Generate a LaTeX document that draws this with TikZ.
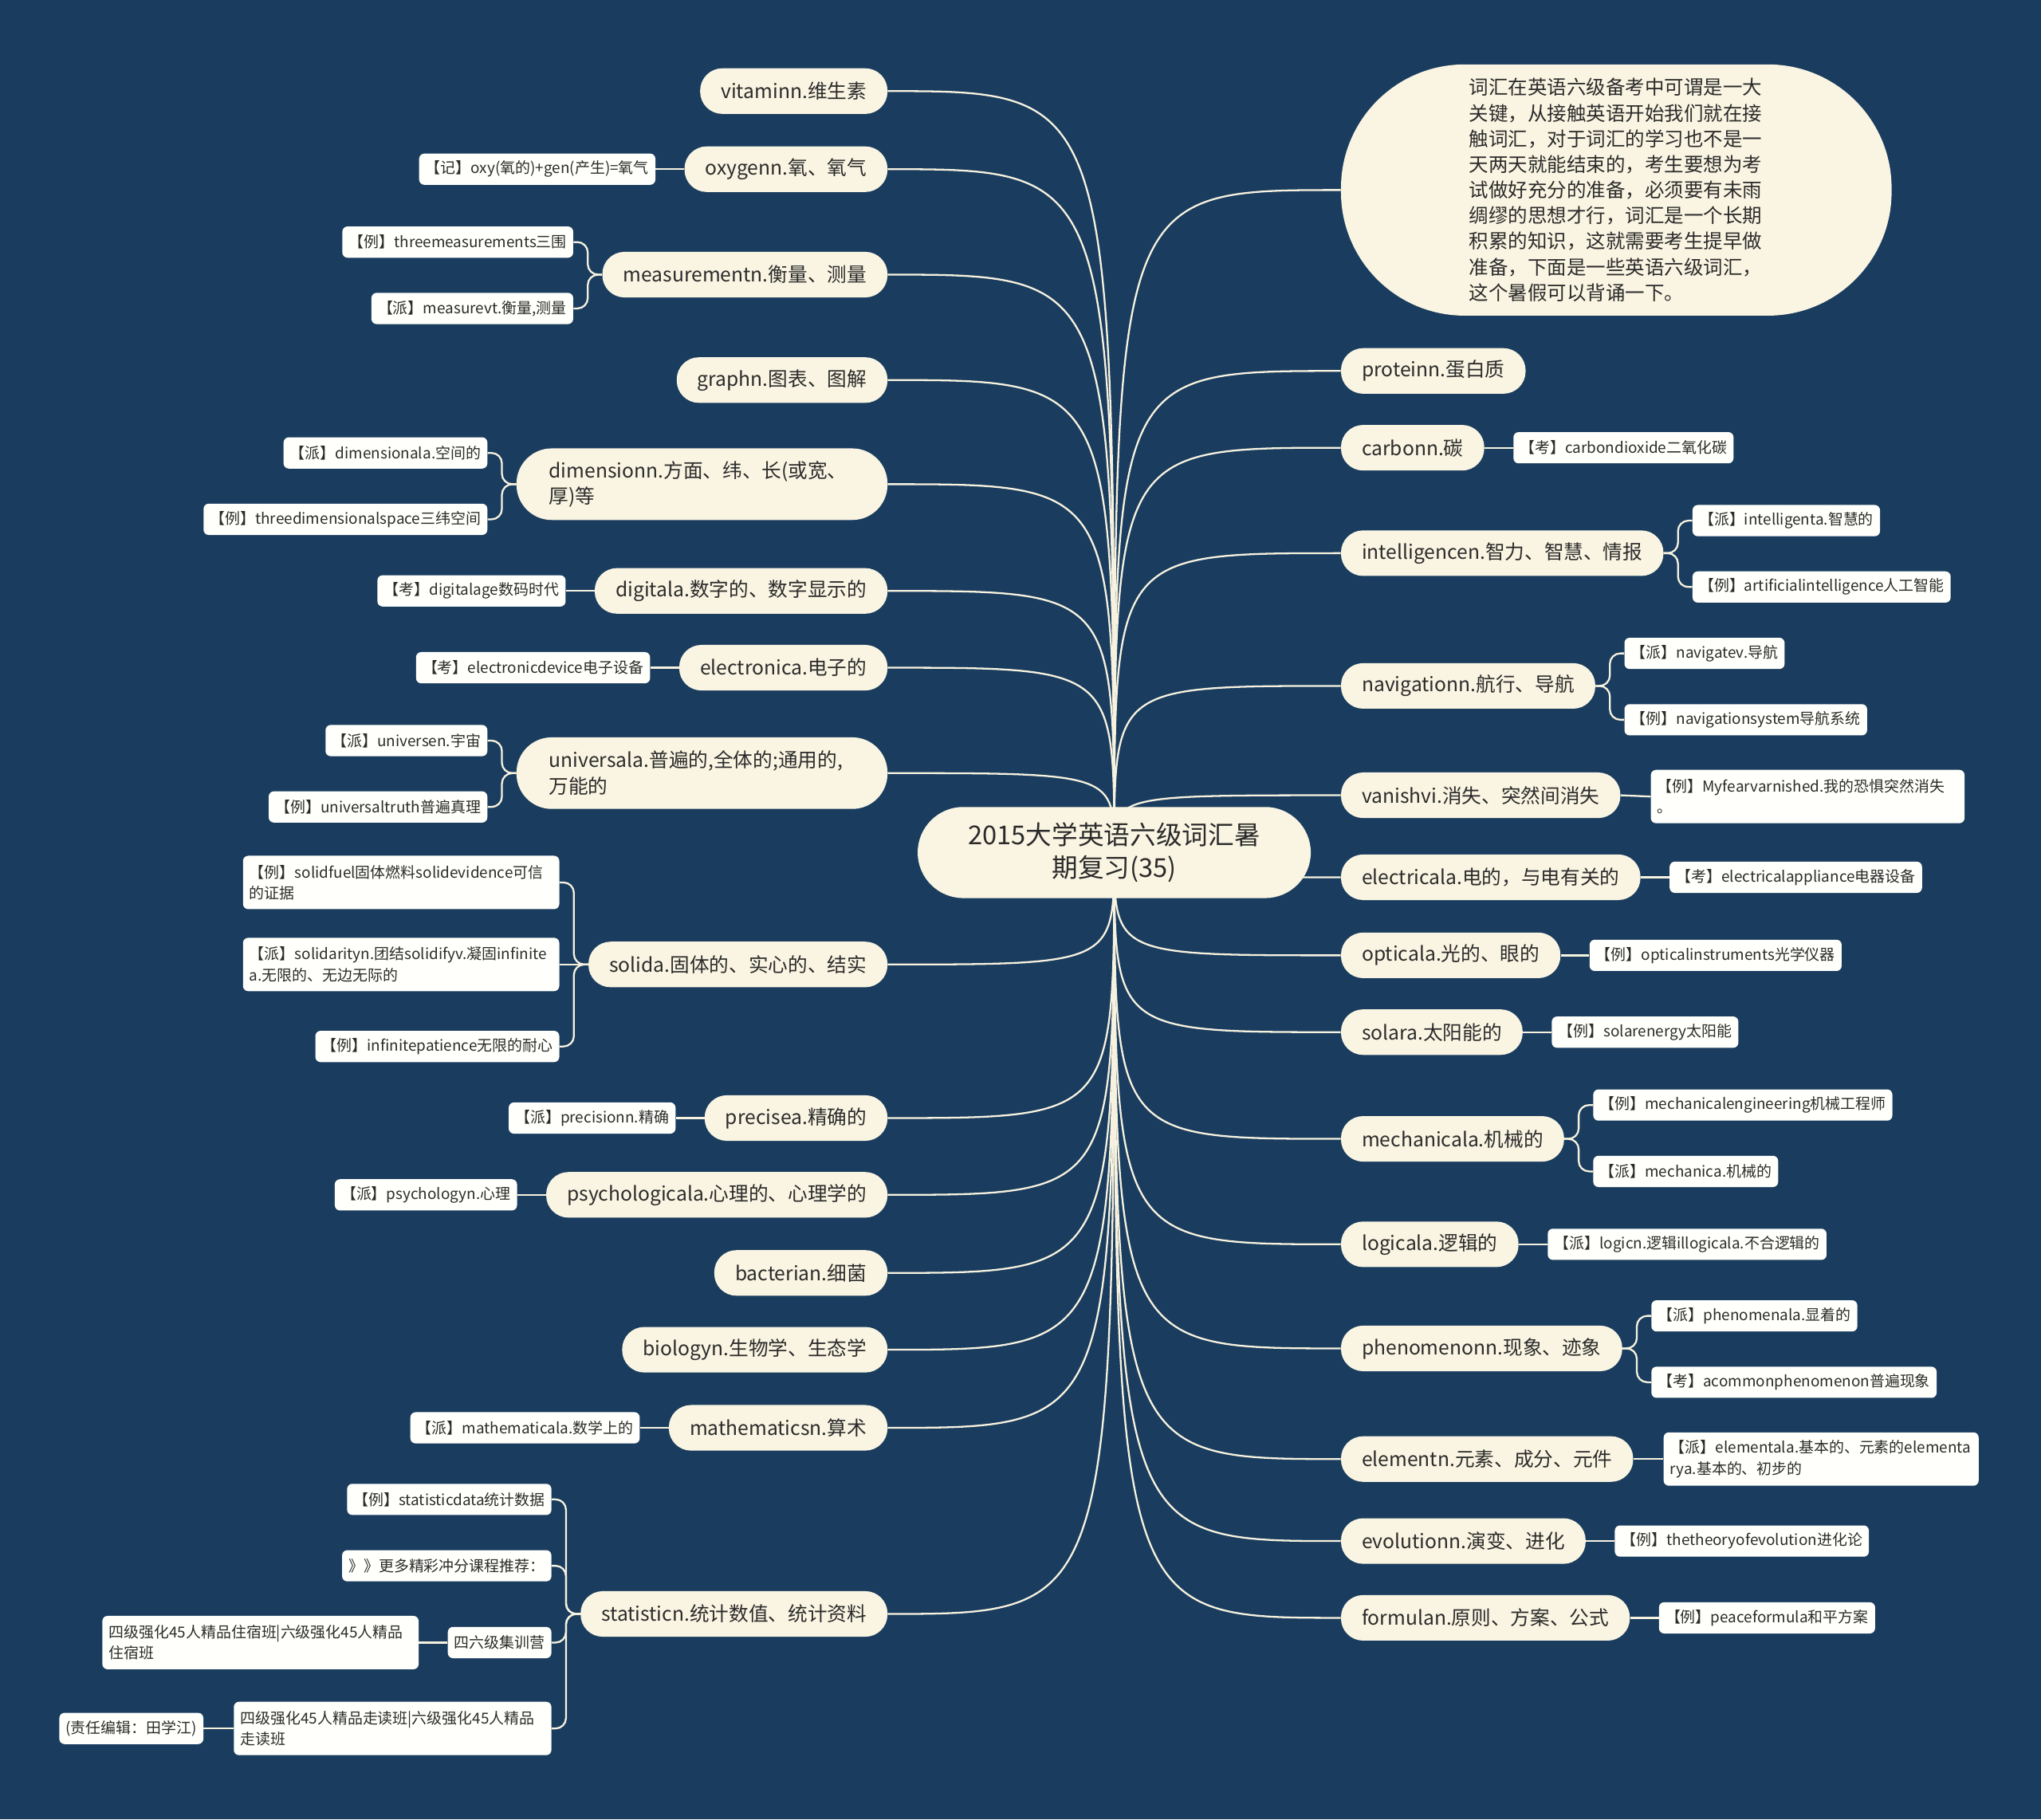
\documentclass[tikz,border=0pt]{standalone}
\usepackage{fontspec}
\setmainfont{Noto Sans CJK SC}
\usetikzlibrary{calc,backgrounds}

\definecolor{bgblau}{HTML}{1A3D5F}
\definecolor{creme}{HTML}{FAF5E2}
\definecolor{blattweiss}{HTML}{FFFFFB}
\definecolor{linie}{HTML}{F7F2DF}
\definecolor{schrift}{HTML}{2B2B2B}

\tikzset{
  centerbox/.style={fill=creme, text=schrift, rounded corners=35pt, minimum height=70pt, minimum width=302pt, text width=270pt, align=center, font=\fontsize{20}{25}\selectfont},
  textbox/.style={fill=creme, text=schrift, rounded corners=95pt, minimum height=193pt, minimum width=423pt, text width=226pt, align=left, font=\fontsize{15}{19.7}\selectfont},
  mainbox/.style={fill=creme, text=schrift, rounded corners=17pt, minimum height=35pt, inner xsep=16pt, inner ysep=2pt, font=\fontsize{15.1}{20}\selectfont},
  mainbox2/.style={mainbox, rounded corners=27pt, minimum height=55pt, align=left, text width=235pt, inner xsep=25pt},
  leafbox/.style={fill=blattweiss, text=schrift, rounded corners=4pt, minimum height=24pt, inner xsep=5pt, inner ysep=2pt, font=\fontsize{11.6}{16}\selectfont},
  leafbox2/.style={leafbox, minimum height=41pt, align=left},
  ast/.style={draw=linie, line width=1.4pt},
  zweig/.style={draw=linie, line width=1.4pt, rounded corners=8pt}
}

\begin{document}
\begin{tikzpicture}[x=1pt, y=-1pt]

\useasboundingbox (0,0) rectangle (1568,1398);
\begin{scope}[on background layer]
\fill[bgblau] (0,0) rectangle (1568,1398);
\end{scope}

%ZENTRUM
\node[centerbox] (c) at (856,655) {2015大学英语六级词汇暑\\期复习(35)};




%AST NR. 1 (links)
\node[mainbox, anchor=east] (l1) at (682,70) {vitaminn.维生素};

%AST NR. 2 (links)
\node[mainbox, anchor=east] (l2) at (682,130) {oxygenn.氧、氧气};
\node[leafbox, anchor=east] (l2a) at ($(l2.west)+(-22,0)$) {【记】oxy(氧的)+gen(产生)=氧气};

%AST NR. 3 (links)
\node[mainbox, anchor=east] (l3) at (682,211) {measurementn.衡量、测量};
\node[leafbox, anchor=east] (l3a) at ($(l3.west)+(-22,-25)$) {【例】threemeasurements三围};
\node[leafbox, anchor=east] (l3b) at ($(l3.west)+(-22,26)$) {【派】measurevt.衡量,测量};

%AST NR. 4 (links)
\node[mainbox, anchor=east] (l4) at (682,292) {graphn.图表、图解};

%AST NR. 5 (links)
\node[mainbox2, anchor=east] (l5) at (682,372) {dimensionn.方面、纬、长(或宽、\\厚)等};
\node[leafbox, anchor=east] (l5a) at ($(l5.west)+(-22,-24)$) {【派】dimensionala.空间的};
\node[leafbox, anchor=east] (l5b) at ($(l5.west)+(-22,27)$) {【例】threedimensionalspace三纬空间};

%AST NR. 6 (links)
\node[mainbox, anchor=east] (l6) at (682,454) {digitala.数字的、数字显示的};
\node[leafbox, anchor=east] (l6a) at ($(l6.west)+(-22,0)$) {【考】digitalage数码时代};

%AST NR. 7 (links)
\node[mainbox, anchor=east] (l7) at (682,513) {electronica.电子的};
\node[leafbox, anchor=east] (l7a) at ($(l7.west)+(-22,0)$) {【考】electronicdevice电子设备};

%AST NR. 8 (links)
\node[mainbox2, anchor=east] (l8) at (682,594) {universala.普遍的,全体的;通用的,\\万能的};
\node[leafbox, anchor=east] (l8a) at ($(l8.west)+(-22,-25)$) {【派】universen.宇宙};
\node[leafbox, anchor=east] (l8b) at ($(l8.west)+(-22,26)$) {【例】universaltruth普遍真理};

%AST NR. 9 (links)
\node[mainbox, anchor=east] (l9) at (682,741) {solida.固体的、实心的、结实};
\node[leafbox2, text width=233pt, anchor=east] (l9a) at ($(l9.west)+(-22,-63)$) {【例】solidfuel固体燃料solidevidence可信\\的证据};
\node[leafbox2, text width=233pt, anchor=east] (l9b) at ($(l9.west)+(-22,0)$) {【派】solidarityn.团结solidifyv.凝固infinite\\a.无限的、无边无际的};
\node[leafbox, anchor=east] (l9c) at ($(l9.west)+(-22,63)$) {【例】infinitepatience无限的耐心};

%AST NR. 10 (links)
\node[mainbox, anchor=east] (l10) at (682,859) {precisea.精确的};
\node[leafbox, anchor=east] (l10a) at ($(l10.west)+(-22,0)$) {【派】precisionn.精确};

%AST NR. 11 (links)
\node[mainbox, anchor=east] (l11) at (682,918) {psychologicala.心理的、心理学的};
\node[leafbox, anchor=east] (l11a) at ($(l11.west)+(-22,0)$) {【派】psychologyn.心理};

%AST NR. 12 (links)
\node[mainbox, anchor=east] (l12) at (682,978) {bacterian.细菌};

%AST NR. 13 (links)
\node[mainbox, anchor=east] (l13) at (682,1037) {biologyn.生物学、生态学};

%AST NR. 14 (links)
\node[mainbox, anchor=east] (l14) at (682,1097) {mathematicsn.算术};
\node[leafbox, anchor=east] (l14a) at ($(l14.west)+(-22,0)$) {【派】mathematicala.数学上的};

%AST NR. 15 (links)
\node[mainbox, anchor=east] (l15) at (682,1240) {statisticn.统计数值、统计资料};
\node[leafbox, anchor=east] (l15a) at ($(l15.west)+(-22,-88)$) {【例】statisticdata统计数据};
\node[leafbox, anchor=east] (l15b) at ($(l15.west)+(-22,-37)$) {》》更多精彩冲分课程推荐：};
\node[leafbox, anchor=east] (l15c) at ($(l15.west)+(-22,22)$) {四六级集训营};
\node[leafbox2, text width=234pt, anchor=east] (l15d) at ($(l15.west)+(-22,88)$) {四级强化45人精品走读班|六级强化45人精品\\走读班};
\node[leafbox2, text width=233pt, anchor=east] (l15e) at ($(l15c.west)+(-22,0)$) {四级强化45人精品住宿班|六级强化45人精品\\住宿班};
\node[leafbox, anchor=east] (l15f) at ($(l15d.west)+(-23,0)$) {(责任编辑：田学江)};




%AST NR. 0 (rechts)
\node[textbox, anchor=west] (r0) at (1030,146) {词汇在英语六级备考中可谓是一大\\关键，从接触英语开始我们就在接\\触词汇，对于词汇的学习也不是一\\天两天就能结束的，考生要想为考\\试做好充分的准备，必须要有未雨\\绸缪的思想才行，词汇是一个长期\\积累的知识，这就需要考生提早做\\准备，下面是一些英语六级词汇，\\这个暑假可以背诵一下。};

%AST NR. 1 (rechts)
\node[mainbox, anchor=west] (r1) at (1030,285) {proteinn.蛋白质};

%AST NR. 2 (rechts)
\node[mainbox, anchor=west] (r2) at (1030,344) {carbonn.碳};
\node[leafbox, anchor=west] (r2a) at ($(r2.east)+(22,0)$) {【考】carbondioxide二氧化碳};

%AST NR. 3 (rechts)
\node[mainbox, anchor=west] (r3) at (1030,425) {intelligencen.智力、智慧、情报};
\node[leafbox, anchor=west] (r3a) at ($(r3.east)+(22,-25)$) {【派】intelligenta.智慧的};
\node[leafbox, anchor=west] (r3b) at ($(r3.east)+(22,26)$) {【例】artificialintelligence人工智能};

%AST NR. 4 (rechts)
\node[mainbox, anchor=west] (r4) at (1030,527) {navigationn.航行、导航};
\node[leafbox, anchor=west] (r4a) at ($(r4.east)+(22,-25)$) {【派】navigatev.导航};
\node[leafbox, anchor=west] (r4b) at ($(r4.east)+(22,26)$) {【例】navigationsystem导航系统};

%AST NR. 5 (rechts)
\node[mainbox, anchor=west] (r5) at (1030,611) {vanishvi.消失、突然间消失};
\node[leafbox2, text width=231pt, anchor=west] (r5a) at ($(r5.east)+(23,1)$) {【例】Myfearvarnished.我的恐惧突然消失\\。};

%AST NR. 6 (rechts)
\node[mainbox, anchor=west] (r6) at (1030,674) {electricala.电的，与电有关的};
\node[leafbox, anchor=west] (r6a) at ($(r6.east)+(22,0)$) {【考】electricalappliance电器设备};

%AST NR. 7 (rechts)
\node[mainbox, anchor=west] (r7) at (1030,734) {opticala.光的、眼的};
\node[leafbox, anchor=west] (r7a) at ($(r7.east)+(22,0)$) {【例】opticalinstruments光学仪器};

%AST NR. 8 (rechts)
\node[mainbox, anchor=west] (r8) at (1030,793) {solara.太阳能的};
\node[leafbox, anchor=west] (r8a) at ($(r8.east)+(22,0)$) {【例】solarenergy太阳能};

%AST NR. 9 (rechts)
\node[mainbox, anchor=west] (r9) at (1030,875) {mechanicala.机械的};
\node[leafbox, anchor=west] (r9a) at ($(r9.east)+(22,-26)$) {【例】mechanicalengineering机械工程师};
\node[leafbox, anchor=west] (r9b) at ($(r9.east)+(22,25)$) {【派】mechanica.机械的};

%AST NR. 10 (rechts)
\node[mainbox, anchor=west] (r10) at (1030,956) {logicala.逻辑的};
\node[leafbox, anchor=west] (r10a) at ($(r10.east)+(22,0)$) {【派】logicn.逻辑illogicala.不合逻辑的};

%AST NR. 11 (rechts)
\node[mainbox, anchor=west] (r11) at (1030,1036) {phenomenonn.现象、迹象};
\node[leafbox, anchor=west] (r11a) at ($(r11.east)+(22,-25)$) {【派】phenomenala.显着的};
\node[leafbox, anchor=west] (r11b) at ($(r11.east)+(22,26)$) {【考】acommonphenomenon普遍现象};

%AST NR. 12 (rechts)
\node[mainbox, anchor=west] (r12) at (1030,1121) {elementn.元素、成分、元件};
\node[leafbox2, text width=232pt, anchor=west] (r12a) at ($(r12.east)+(23,0)$) {【派】elementala.基本的、元素的elementa\\rya.基本的、初步的};

%AST NR. 13 (rechts)
\node[mainbox, anchor=west] (r13) at (1030,1184) {evolutionn.演变、进化};
\node[leafbox, anchor=west] (r13a) at ($(r13.east)+(22,0)$) {【例】thetheoryofevolution进化论};

%AST NR. 14 (rechts)
\node[mainbox, anchor=west] (r14) at (1030,1243) {formulan.原则、方案、公式};
\node[leafbox, anchor=west] (r14a) at ($(r14.east)+(22,0)$) {【例】peaceformula和平方案};




%VERBINDUNGEN (hinter den Knoten)
\begin{scope}[on background layer]

%ZENTRUM -> LINKS
\draw[ast] (c.center) .. controls (c.center |- l1.east) .. (l1.east);
\draw[ast] (c.center) .. controls (c.center |- l2.east) .. (l2.east);
\draw[ast] (c.center) .. controls (c.center |- l3.east) .. (l3.east);
\draw[ast] (c.center) .. controls (c.center |- l4.east) .. (l4.east);
\draw[ast] (c.center) .. controls (c.center |- l5.east) .. (l5.east);
\draw[ast] (c.center) .. controls (c.center |- l6.east) .. (l6.east);
\draw[ast] (c.center) .. controls (c.center |- l7.east) .. (l7.east);
\draw[ast] (c.center) .. controls (c.center |- l8.east) .. (l8.east);
\draw[ast] (c.center) .. controls (c.center |- l9.east) .. (l9.east);
\draw[ast] (c.center) .. controls (c.center |- l10.east) .. (l10.east);
\draw[ast] (c.center) .. controls (c.center |- l11.east) .. (l11.east);
\draw[ast] (c.center) .. controls (c.center |- l12.east) .. (l12.east);
\draw[ast] (c.center) .. controls (c.center |- l13.east) .. (l13.east);
\draw[ast] (c.center) .. controls (c.center |- l14.east) .. (l14.east);
\draw[ast] (c.center) .. controls (c.center |- l15.east) .. (l15.east);

%ZENTRUM -> RECHTS
\draw[ast] (c.center) .. controls (c.center |- r0.west) .. (r0.west);
\draw[ast] (c.center) .. controls (c.center |- r1.west) .. (r1.west);
\draw[ast] (c.center) .. controls (c.center |- r2.west) .. (r2.west);
\draw[ast] (c.center) .. controls (c.center |- r3.west) .. (r3.west);
\draw[ast] (c.center) .. controls (c.center |- r4.west) .. (r4.west);
\draw[ast] (c.center) .. controls (c.center |- r5.west) .. (r5.west);
\draw[ast] (c.center) .. controls (c.center |- r6.west) .. (r6.west);
\draw[ast] (c.center) .. controls (c.center |- r7.west) .. (r7.west);
\draw[ast] (c.center) .. controls (c.center |- r8.west) .. (r8.west);
\draw[ast] (c.center) .. controls (c.center |- r9.west) .. (r9.west);
\draw[ast] (c.center) .. controls (c.center |- r10.west) .. (r10.west);
\draw[ast] (c.center) .. controls (c.center |- r11.west) .. (r11.west);
\draw[ast] (c.center) .. controls (c.center |- r12.west) .. (r12.west);
\draw[ast] (c.center) .. controls (c.center |- r13.west) .. (r13.west);
\draw[ast] (c.center) .. controls (c.center |- r14.west) .. (r14.west);

%BLAETTER LINKS
\draw[ast] (l2.west) -- (l2a.east);
\draw[zweig] (l3.west) -- ++(-11,0) |- (l3a.east);
\draw[zweig] (l3.west) -- ++(-11,0) |- (l3b.east);
\draw[zweig] (l5.west) -- ++(-11,0) |- (l5a.east);
\draw[zweig] (l5.west) -- ++(-11,0) |- (l5b.east);
\draw[ast] (l6.west) -- (l6a.east);
\draw[ast] (l7.west) -- (l7a.east);
\draw[zweig] (l8.west) -- ++(-11,0) |- (l8a.east);
\draw[zweig] (l8.west) -- ++(-11,0) |- (l8b.east);
\draw[zweig] (l9.west) -- ++(-11,0) |- (l9a.east);
\draw[ast] (l9.west) -- (l9b.east);
\draw[zweig] (l9.west) -- ++(-11,0) |- (l9c.east);
\draw[ast] (l10.west) -- (l10a.east);
\draw[ast] (l11.west) -- (l11a.east);
\draw[ast] (l14.west) -- (l14a.east);
\draw[zweig] (l15.west) -- ++(-11,0) |- (l15a.east);
\draw[zweig] (l15.west) -- ++(-11,0) |- (l15b.east);
\draw[zweig] (l15.west) -- ++(-11,0) |- (l15c.east);
\draw[zweig] (l15.west) -- ++(-11,0) |- (l15d.east);
\draw[ast] (l15c.west) -- (l15e.east);
\draw[ast] (l15d.west) -- (l15f.east);

%BLAETTER RECHTS
\draw[ast] (r2.east) -- (r2a.west);
\draw[zweig] (r3.east) -- ++(11,0) |- (r3a.west);
\draw[zweig] (r3.east) -- ++(11,0) |- (r3b.west);
\draw[zweig] (r4.east) -- ++(11,0) |- (r4a.west);
\draw[zweig] (r4.east) -- ++(11,0) |- (r4b.west);
\draw[ast] (r5.east) -- (r5a.west);
\draw[ast] (r6.east) -- (r6a.west);
\draw[ast] (r7.east) -- (r7a.west);
\draw[ast] (r8.east) -- (r8a.west);
\draw[zweig] (r9.east) -- ++(11,0) |- (r9a.west);
\draw[zweig] (r9.east) -- ++(11,0) |- (r9b.west);
\draw[ast] (r10.east) -- (r10a.west);
\draw[zweig] (r11.east) -- ++(11,0) |- (r11a.west);
\draw[zweig] (r11.east) -- ++(11,0) |- (r11b.west);
\draw[ast] (r12.east) -- (r12a.west);
\draw[ast] (r13.east) -- (r13a.west);
\draw[ast] (r14.east) -- (r14a.west);

\end{scope}

\end{tikzpicture}
\end{document}
